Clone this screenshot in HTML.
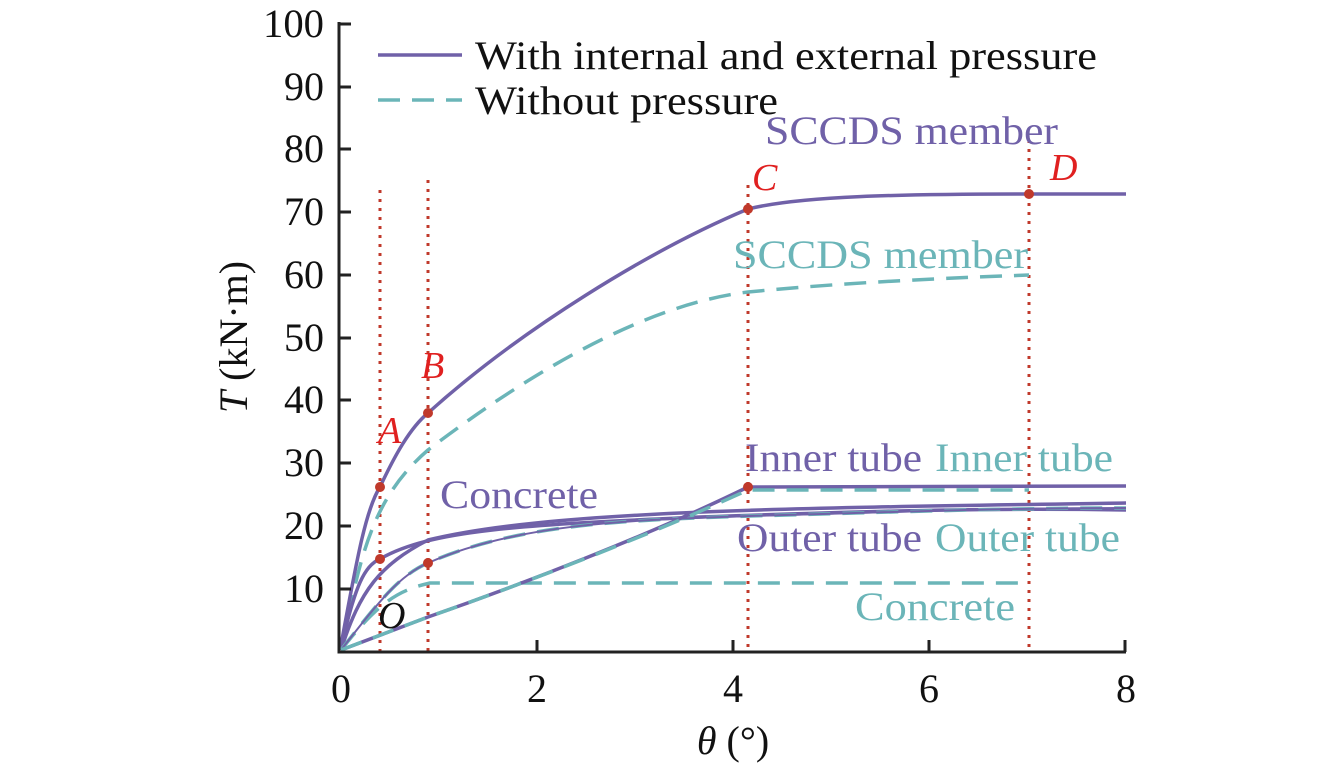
<!DOCTYPE html>
<html><head><style>body{margin:0;background:#fff}svg{display:block}</style></head><body>
<svg width="1338" height="764" viewBox="0 0 1338 764" xmlns="http://www.w3.org/2000/svg" font-family="Liberation Serif, serif">
<g stroke="#c0392b" stroke-width="3" stroke-dasharray="3,6" fill="none">
<line x1="380" y1="190" x2="380" y2="651"/><line x1="428" y1="180" x2="428" y2="651"/>
<line x1="748" y1="185" x2="748" y2="651"/><line x1="1029" y1="140" x2="1029" y2="651"/>
</g>
<g fill="none" stroke-width="3.5">
<path d="M341,650 C380,600 400,590 430,583 L1029,583" stroke="#6bb5b8" stroke-dasharray="22,12"/>
<path d="M341,650 C360,560 370,500 428,450 C520,380 640,305 748,292 C850,282 950,278 1029,275" stroke="#6bb5b8" stroke-dasharray="22,12"/>
<path d="M341,650 C360,590 380,565 428,540 C550,510 800,508 1126,503" stroke="#7061a8"/>
<path d="M341,648 C355,585 365,565 380,559 C430,530 520,525 700,517 C900,510 1000,508 1126,510" stroke="#7061a8"/>
<path d="M341,650 C380,600 400,575 428,563 C520,522 640,520 750,516 C900,512 1000,508 1126,508" stroke="#6bb5b8" stroke-dasharray="22,12"/>
<path d="M341,650 C380,600 400,575 428,563 C520,522 640,520 750,516 C900,512 1000,508 1126,508" stroke="#7061a8" stroke-width="2"/>
<path d="M341,650 L428,617 C520,585 650,535 748,487 L1126,486" stroke="#7061a8"/>
<path d="M341,650 L428,617 C520,585 650,535 748,490 L1029,490" stroke="#6bb5b8" stroke-dasharray="22,12"/>
<path d="M341,645 C355,570 365,510 380,487 C395,455 410,428 428,413 C520,330 650,250 748,209 C800,196 900,194 1029,194 L1126,194" stroke="#7061a8"/>
</g>
<g fill="#c0392b">
<circle cx="380" cy="487" r="5"/><circle cx="428" cy="413" r="5"/><circle cx="748" cy="209" r="5"/><circle cx="1029" cy="194" r="5"/>
<circle cx="380" cy="559" r="5"/><circle cx="428" cy="563" r="5"/><circle cx="748" cy="487" r="5"/>
</g>
<g stroke="#222" stroke-width="3" fill="none">
<path d="M339,22 L339,652 L1126,652"/>
<path d="M339,24h12M339,87h12M339,149h12M339,212h12M339,275h12M339,338h12M339,400h12M339,463h12M339,526h12M339,589h12"/>
<path d="M537,652v-12M733,652v-12M929,652v-12M1125,652v-12"/>
</g>
<g font-size="40" fill="#111" text-anchor="end">
<text x="324" y="37" textLength="61" lengthAdjust="spacingAndGlyphs">100</text><text x="324" y="100">90</text><text x="324" y="162">80</text><text x="324" y="225">70</text><text x="324" y="288">60</text><text x="324" y="351">50</text><text x="324" y="413">40</text><text x="324" y="476">30</text><text x="324" y="539">20</text><text x="324" y="602">10</text>
</g>
<g font-size="40" fill="#111" text-anchor="middle">
<text x="341" y="702">0</text><text x="537" y="702">2</text><text x="733" y="702">4</text><text x="929" y="702">6</text><text x="1126" y="702">8</text>
<text x="733" y="754"><tspan font-style="italic">θ</tspan> (°)</text>
</g>
<text transform="translate(247,337) rotate(-90)" font-size="40" text-anchor="middle" fill="#111"><tspan font-style="italic">T</tspan> (kN·m)</text>
<line x1="378" y1="55" x2="462" y2="55" stroke="#7061a8" stroke-width="3.5"/>
<line x1="378" y1="100" x2="462" y2="100" stroke="#6bb5b8" stroke-width="3.5" stroke-dasharray="22,12"/>
<g font-size="40" fill="#111"><text x="475" y="69" textLength="622" lengthAdjust="spacingAndGlyphs">With internal and external pressure</text><text x="475" y="114" textLength="303" lengthAdjust="spacingAndGlyphs">Without pressure</text></g>
<g font-size="40" fill="#7061a8"><text x="765" y="144" textLength="293" lengthAdjust="spacingAndGlyphs">SCCDS member</text><text x="745" y="471" textLength="177" lengthAdjust="spacingAndGlyphs">Inner tube</text><text x="737" y="551" textLength="185" lengthAdjust="spacingAndGlyphs">Outer tube</text><text x="440" y="508" textLength="158" lengthAdjust="spacingAndGlyphs">Concrete</text></g>
<g font-size="40" fill="#6bb5b8"><text x="733" y="268" textLength="295" lengthAdjust="spacingAndGlyphs">SCCDS member</text><text x="935" y="471" textLength="178" lengthAdjust="spacingAndGlyphs">Inner tube</text><text x="935" y="551" textLength="185" lengthAdjust="spacingAndGlyphs">Outer tube</text><text x="855" y="620" textLength="160" lengthAdjust="spacingAndGlyphs">Concrete</text></g>
<g font-size="38" font-style="italic" fill="#e02020"><text x="378" y="443">A</text><text x="421" y="378">B</text><text x="752" y="190">C</text><text x="1050" y="180">D</text></g>
<text x="378" y="628" font-size="38" font-style="italic" fill="#111">O</text>
</svg>
</body></html>
